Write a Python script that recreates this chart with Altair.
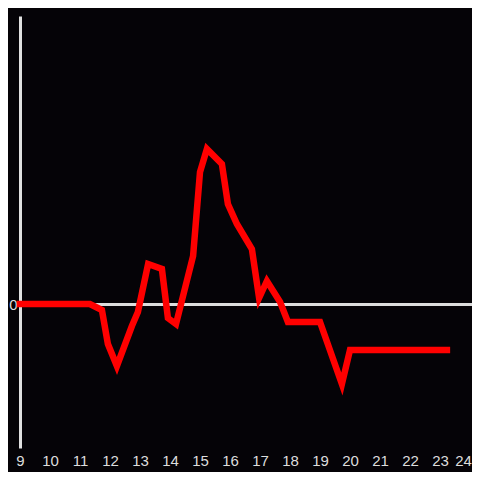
import altair as alt
import pandas as pd

hours = [9.0, 11.33, 11.73, 11.93, 12.23, 12.73, 12.93, 13.27, 13.73, 13.93, 14.2,
         14.77, 15.0, 15.23, 15.73, 15.93, 16.23, 16.73, 16.97, 17.23, 17.67, 17.93,
         19.0, 19.73, 20.0, 23.23]
values = [0, 0, -6, -40, -62, -22, -8, 40, 35, -14, -20,
          48, 132, 155, 140, 100, 80, 55, 6, 23, 2, -18,
          -18, -80, -46, -46]
x_ticks = list(range(9, 25))

df = pd.DataFrame({"hour": hours, "value": values})

chart = alt.Chart(df).mark_line(
    color="#ff0000", strokeWidth=6.5, strokeCap="square", strokeJoin="miter"
).encode(
    x=alt.X("hour:Q",
            scale=alt.Scale(domain=[9, 9 + 452 / 30], nice=False, zero=False),
            axis=alt.Axis(values=x_ticks, title=None, domain=False, ticks=False,
                          grid=False, labelColor="#dddddd", labelFontSize=15,
                          labelFont="Liberation Sans", labelPadding=5,
                          labelOffset={"condition": {"test": "datum.value === 24", "value": -7}, "value": 0},
                          labelFlush=False, labelOverlap=False)),
    y=alt.Y("value:Q",
            scale=alt.Scale(domain=[-144, 288], nice=False, zero=False),
            axis=alt.Axis(values=[0], title=None, domain=True, domainColor="#e0e0e0",
                          domainWidth=3, ticks=False, grid=True, gridColor="#dddddd",
                          gridWidth=3, labelColor="#dddddd", labelFontSize=15,
                          labelFont="Liberation Sans", labelPadding=3)),
).properties(
    width=452, height=432, background="#050307",
    autosize=alt.AutoSizeParams(type="none"),
    padding={"left": 12, "top": 8, "right": 0, "bottom": 24},
).configure_view(stroke=None)

chart.save("out.html", embed_options={"renderer": "svg", "actions": False})
